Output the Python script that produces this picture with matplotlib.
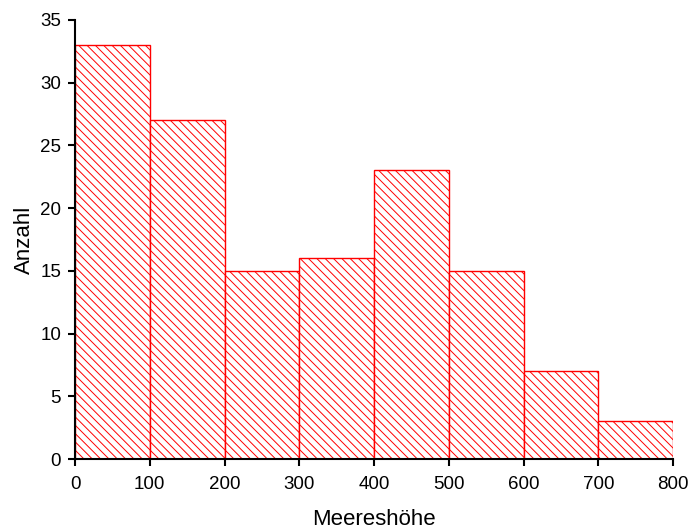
import matplotlib

matplotlib.use('Agg')

import matplotlib.pyplot as plt

plt.rcParams['font.family'] = ['Liberation Sans', 'DejaVu Sans']
plt.rcParams['hatch.color'] = 'red'
plt.rcParams['hatch.linewidth'] = 0.7

bin_edges = [0, 100, 200, 300, 400, 500, 600, 700, 800]
counts = [33, 27, 15, 16, 23, 15, 7, 3]

fig = plt.figure(figsize=(6.9, 5.29), dpi=100)
ax = fig.add_axes([0.1087, 0.1323, 0.8667, 0.83])

widths = [bin_edges[i + 1] - bin_edges[i] for i in range(len(counts))]
ax.bar(bin_edges[:-1], counts, width=widths, align='edge',
       facecolor='white', edgecolor='red', linewidth=1.0, hatch='\\\\\\\\')

ax.set_xlim(0, 800)
ax.set_ylim(0, 35)
ax.set_xticks(range(0, 801, 100))
ax.set_yticks(range(0, 36, 5))

ax.spines['top'].set_visible(False)
ax.spines['right'].set_visible(False)
ax.spines['left'].set_linewidth(1.5)
ax.spines['bottom'].set_linewidth(1.5)
ax.tick_params(direction='out', length=5, width=1.5, labelsize=13.5)
ax.tick_params(axis='x', pad=7)
ax.tick_params(axis='y', pad=5)

ax.set_xlabel('Meereshöhe', fontsize=16, labelpad=12)
ax.set_ylabel('Anzahl', fontsize=16, labelpad=4)

fig.savefig('out.png', dpi=100)
